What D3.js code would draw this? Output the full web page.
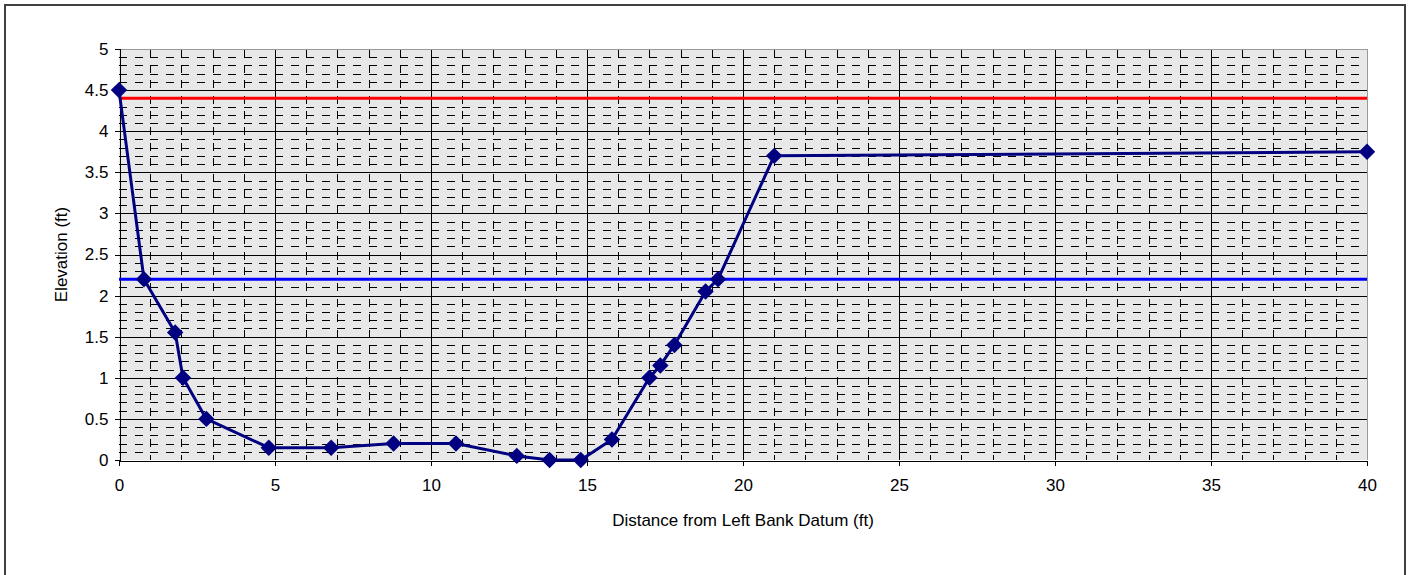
<!DOCTYPE html>
<html>
<head>
<meta charset="utf-8">
<script src="https://cdn.jsdelivr.net/npm/d3@7"></script>
<style>
  html, body { margin: 0; padding: 0; background: #fff; }
  svg { display: block; font-family: "Liberation Sans", Arial, sans-serif; }
</style>
</head>
<body>
<div id="chart"></div>
<script>
// cross section survey points
const distance = [0, 0.8, 1.8, 2.05, 2.8, 4.8, 6.8, 8.8, 10.8, 12.75, 13.8, 14.8, 15.8, 17.0, 17.35, 17.8, 18.8, 19.2, 21.0, 40];
const elevation = [4.5, 2.2, 1.55, 1.0, 0.5, 0.15, 0.15, 0.2, 0.2, 0.05, 0, 0, 0.25, 1.0, 1.15, 1.4, 2.05, 2.2, 3.7, 3.75];

// horizontal reference lines
const refX = [0, 40];
const redElev = [4.4, 4.4];
const blueElev = [2.2, 2.2];

const xTicks = [0, 5, 10, 15, 20, 25, 30, 35, 40];
const yTicks = [0, 0.5, 1, 1.5, 2, 2.5, 3, 3.5, 4, 4.5, 5];

const width = 1413;
const height = 575;
const plot = { left: 119, right: 1367, top: 49, bottom: 460 };
const fontSize = '17px';

const svg = d3.select('#chart').append('svg')
  .attr('width', width)
  .attr('height', height);

// chart area border
svg.append('rect')
  .attr('x', 5).attr('y', 5)
  .attr('width', 1400).attr('height', 590)
  .attr('fill', '#fff')
  .attr('stroke', '#404040')
  .attr('stroke-width', 2);

const x = d3.scaleLinear().domain([0, 40]).range([plot.left, plot.right]);
const y = d3.scaleLinear().domain([0, 5]).range([plot.bottom, plot.top]);

const crisp = (v) => Math.round(v) + 0.5;

// plot area background
svg.append('rect')
  .attr('x', plot.left).attr('y', plot.top)
  .attr('width', plot.right - plot.left)
  .attr('height', plot.bottom - plot.top)
  .attr('fill', '#e8e8e8');

const grid = svg.append('g').attr('shape-rendering', 'crispEdges');

// minor gridlines (dashed) - every 1 ft across, every 0.1 ft up
const minorX = d3.range(1, 40).filter((d) => d % 5 !== 0);
const minorY = d3.range(1, 50).filter((d) => d % 5 !== 0).map((d) => d / 10);

grid.selectAll('line.minor-y')
  .data(minorY)
  .join('line')
  .attr('class', 'minor-y')
  .attr('x1', plot.left).attr('x2', plot.right)
  .attr('y1', (d) => crisp(y(d))).attr('y2', (d) => crisp(y(d)))
  .attr('stroke', '#000')
  .attr('stroke-dasharray', '8,7.6');

grid.selectAll('line.minor-x')
  .data(minorX)
  .join('line')
  .attr('class', 'minor-x')
  .attr('x1', (d) => crisp(x(d))).attr('x2', (d) => crisp(x(d)))
  .attr('y1', plot.top).attr('y2', plot.bottom)
  .attr('stroke', '#000')
  .attr('stroke-dasharray', '8,7.6');

// major gridlines
grid.selectAll('line.major-y')
  .data(yTicks.slice(1, -1))
  .join('line')
  .attr('class', 'major-y')
  .attr('x1', plot.left).attr('x2', plot.right)
  .attr('y1', (d) => crisp(y(d))).attr('y2', (d) => crisp(y(d)))
  .attr('stroke', '#000');

grid.selectAll('line.major-x')
  .data(xTicks.slice(1, -1))
  .join('line')
  .attr('class', 'major-x')
  .attr('x1', (d) => crisp(x(d))).attr('x2', (d) => crisp(x(d)))
  .attr('y1', plot.top).attr('y2', plot.bottom)
  .attr('stroke', '#000');

// plot area border (top / right)
grid.append('path')
  .attr('d', `M${plot.left},${crisp(plot.top)}H${crisp(plot.right)}V${plot.bottom}`)
  .attr('fill', 'none')
  .attr('stroke', '#999');

// axes
const xAxis = svg.append('g')
  .attr('transform', `translate(0,${crisp(plot.bottom)})`)
  .call(d3.axisBottom(x).tickValues(xTicks).tickSize(5).tickPadding(13).tickFormat(d3.format('d')));

const yAxis = svg.append('g')
  .attr('transform', `translate(${crisp(plot.left)},0)`)
  .call(d3.axisLeft(y).tickValues(yTicks).tickSize(5).tickPadding(6).tickFormat((d) => String(d)));

[xAxis, yAxis].forEach((g) => {
  g.attr('shape-rendering', 'crispEdges');
  g.select('.domain').attr('stroke', '#000');
  g.selectAll('.tick line').attr('stroke', '#000');
  g.selectAll('.tick text')
    .attr('fill', '#000')
    .style('font-size', fontSize)
    .style('font-family', '"Liberation Sans", Arial, sans-serif');
});

// reference lines
const refLine = d3.line()
  .x((d) => x(d[0]))
  .y((d) => y(d[1]));

svg.append('path')
  .datum(d3.zip(refX, redElev))
  .attr('d', refLine)
  .attr('fill', 'none')
  .attr('stroke', '#ff0000')
  .attr('stroke-width', 3);

svg.append('path')
  .datum(d3.zip(refX, blueElev))
  .attr('d', refLine)
  .attr('fill', 'none')
  .attr('stroke', '#0000ff')
  .attr('stroke-width', 3);

// ground profile
const points = d3.zip(distance, elevation);

svg.append('path')
  .datum(points)
  .attr('d', refLine)
  .attr('fill', 'none')
  .attr('stroke', '#000080')
  .attr('stroke-width', 3)
  .attr('stroke-linejoin', 'round');

svg.append('g')
  .selectAll('path')
  .data(points)
  .join('path')
  .attr('d', d3.symbol(d3.symbolSquare, 135))
  .attr('transform', (d) => `translate(${x(d[0])},${y(d[1])}) rotate(45)`)
  .attr('fill', '#000080');

// axis titles
svg.append('text')
  .attr('x', (plot.left + plot.right) / 2)
  .attr('y', 526)
  .attr('text-anchor', 'middle')
  .style('font-size', fontSize)
  .text('Distance from Left Bank Datum (ft)');

svg.append('text')
  .attr('transform', `translate(67,${(plot.top + plot.bottom) / 2}) rotate(-90)`)
  .attr('text-anchor', 'middle')
  .style('font-size', fontSize)
  .text('Elevation (ft)');
</script>
</body>
</html>
